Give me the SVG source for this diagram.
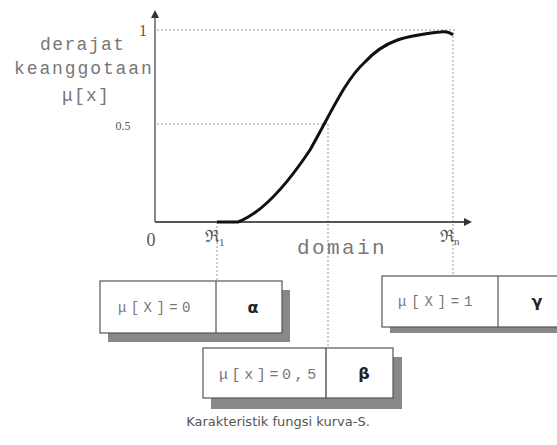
<svg xmlns="http://www.w3.org/2000/svg" width="557" height="445" viewBox="0 0 557 445">
<style>
.mono{font-family:"Liberation Mono","DejaVu Sans Mono",monospace;fill:#777}
.serif{font-family:"Liberation Serif","DejaVu Serif",serif;fill:#555}
.dot{stroke:#999;stroke-width:1;stroke-dasharray:2,2;fill:none}
.box{fill:#fff;stroke:#555;stroke-width:1.2}
.shadow{fill:#888}
.greek{font-family:"DejaVu Sans","Liberation Sans",sans-serif;font-weight:bold;fill:#222;font-size:16px}
</style>
<defs>
<marker id="arr" markerWidth="8" markerHeight="8" refX="6" refY="4" orient="auto" markerUnits="userSpaceOnUse">
<path d="M0,0 L8,4 L0,8 Z" fill="#333"/>
</marker>
</defs>
<rect width="557" height="445" fill="#fff"/>
<g id="connectors">
<line class="dot" x1="157" y1="30" x2="455" y2="30"/>
<line class="dot" x1="157" y1="124" x2="328" y2="124"/>
<line class="dot" x1="328" y1="124" x2="328" y2="348"/>
<line class="dot" x1="453" y1="32" x2="453" y2="276"/>
<line class="dot" x1="217" y1="222" x2="217" y2="281"/>
</g>
<g id="axes">
<line x1="155" y1="222" x2="155" y2="12" stroke="#888" stroke-width="2" marker-end="url(#arr)"/>
<line x1="155" y1="222" x2="470" y2="222" stroke="#555" stroke-width="2" marker-end="url(#arr)"/>
</g>
<g id="curve">
<path d="M217,222 L238,222 C265,212 290,180 310,150 C330,115 345,80 365,62 C385,40 405,36 440,32 C446,31 450,32 453,35" fill="none" stroke="#111" stroke-width="3"/>
</g>
<g id="labels">
<text class="serif" x="143" y="36" font-size="16" text-anchor="middle">1</text>
<text class="serif" x="123" y="130" font-size="12" text-anchor="middle">0.5</text>
<text class="mono" x="40" y="50" font-size="18" letter-spacing="1.4">derajat</text>
<text class="mono" x="14" y="74" font-size="18" letter-spacing="1.9">keanggotaan</text>
<text class="mono" x="62" y="101" font-size="18" letter-spacing="1.2">μ[x]</text>
<text class="serif" x="151" y="246" font-size="18" text-anchor="middle">0</text>
<text class="serif" x="205" y="242" font-size="17">ℜ<tspan font-size="11" dy="4">1</tspan></text>
<text class="mono" x="297" y="254" font-size="21" letter-spacing="2.4">domain</text>
<text class="serif" x="440" y="242" font-size="17">ℜ<tspan font-size="11" dy="3">n</tspan></text>
</g>
<g id="node-alpha">
<rect class="shadow" x="108" y="290" width="182" height="52"/>
<rect class="box" x="100" y="281" width="182" height="52"/>
<line x1="216" y1="281" x2="216" y2="333" stroke="#555" stroke-width="1.2"/>
<text class="mono" x="118" y="312" font-size="14" letter-spacing="4.4">μ[X]=0</text>
<text class="greek" x="253" y="313" text-anchor="middle">α</text>
</g>
<g id="node-gamma">
<rect class="shadow" x="390" y="283" width="170" height="50"/>
<rect class="box" x="382" y="276" width="180" height="51"/>
<line x1="498" y1="276" x2="498" y2="327" stroke="#555" stroke-width="1.2"/>
<text class="mono" x="398" y="306" font-size="14" letter-spacing="4.8">μ[X]=1</text>
<text class="greek" x="537" y="307" text-anchor="middle">γ</text>
</g>
<g id="node-beta">
<rect class="shadow" x="211" y="357" width="191" height="52"/>
<rect class="box" x="203" y="348" width="190" height="50"/>
<line x1="326" y1="348" x2="326" y2="398" stroke="#333" stroke-width="1.2"/>
<text class="mono" x="219" y="379" font-size="15" letter-spacing="3.6">μ[x]=0,5</text>
<text class="greek" x="364" y="379" text-anchor="middle">β</text>
</g>
<text x="278" y="426" font-family="DejaVu Sans, Verdana, sans-serif" font-size="13" fill="#555" text-anchor="middle">Karakteristik fungsi kurva-S.</text>
</svg>
